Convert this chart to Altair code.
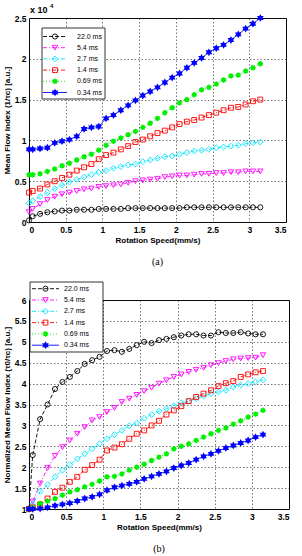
import altair as alt
import pandas as pd

# Rotation speed (mm/s) at each measurement step
speed = [0.0, 0.05, 0.15, 0.25, 0.35, 0.45, 0.55, 0.65, 0.75, 0.85, 0.95,
         1.05, 1.15, 1.25, 1.35, 1.45, 1.55, 1.65, 1.75, 1.85, 1.95, 2.05,
         2.15, 2.25, 2.35, 2.45, 2.55, 2.65, 2.75, 2.85, 2.95, 3.05, 3.15]

exposure = ["22.0 ms", "5.4 ms", "2.7 ms", "1.4 ms", "0.69 ms", "0.34 ms"]

# (a) mean flow index 1/tau_c, in units of 1e4
mfi_220 = [0.02, 0.07, 0.10, 0.12, 0.13, 0.14, 0.14, 0.15, 0.15, 0.15, 0.16,
           0.16, 0.16, 0.16, 0.17, 0.17, 0.17, 0.17, 0.17, 0.17, 0.17, 0.17,
           0.18, 0.18, 0.18, 0.18, 0.18, 0.18, 0.18, 0.18, 0.18, 0.18, 0.18]
mfi_54 = [0.12, 0.16, 0.22, 0.27, 0.31, 0.34, 0.36, 0.38, 0.40, 0.41, 0.43,
          0.44, 0.45, 0.46, 0.48, 0.50, 0.51, 0.52, 0.53, 0.55, 0.56, 0.57,
          0.57, 0.58, 0.59, 0.59, 0.60, 0.60, 0.61, 0.61, 0.62, 0.62, 0.62]
mfi_27 = [0.23, 0.26, 0.31, 0.36, 0.41, 0.45, 0.49, 0.52, 0.55, 0.58, 0.61,
          0.63, 0.66, 0.68, 0.70, 0.71, 0.74, 0.76, 0.78, 0.80, 0.81, 0.83,
          0.85, 0.87, 0.88, 0.89, 0.91, 0.92, 0.93, 0.94, 0.96, 0.97, 0.98]
mfi_14 = [0.36, 0.38, 0.41, 0.46, 0.50, 0.54, 0.58, 0.63, 0.67, 0.71, 0.77,
          0.82, 0.85, 0.89, 0.93, 0.98, 1.01, 1.05, 1.09, 1.12, 1.16, 1.20,
          1.23, 1.25, 1.28, 1.31, 1.34, 1.37, 1.40, 1.41, 1.44, 1.48, 1.50]
mfi_069 = [0.58, 0.58, 0.59, 0.62, 0.65, 0.69, 0.72, 0.76, 0.80, 0.83, 0.88,
           0.94, 0.99, 1.03, 1.07, 1.11, 1.16, 1.21, 1.27, 1.34, 1.40, 1.46,
           1.50, 1.56, 1.62, 1.65, 1.69, 1.74, 1.79, 1.80, 1.85, 1.89, 1.94]
mfi_034 = [0.89, 0.89, 0.90, 0.91, 0.97, 0.99, 1.01, 1.05, 1.14, 1.16, 1.17,
           1.27, 1.31, 1.37, 1.43, 1.49, 1.55, 1.60, 1.65, 1.71, 1.77, 1.82,
           1.89, 1.95, 2.01, 2.08, 2.13, 2.17, 2.23, 2.30, 2.37, 2.43, 2.50]

# (b) normalized mean flow index tau_0/tau_c
nmfi_220 = [1.00, 2.29, 3.15, 3.50, 3.87, 4.04, 4.16, 4.30, 4.47, 4.56, 4.64,
            4.78, 4.80, 4.76, 4.83, 4.92, 5.00, 4.97, 5.04, 5.07, 5.11, 5.15,
            5.18, 5.18, 5.15, 5.15, 5.23, 5.21, 5.21, 5.23, 5.20, 5.18, 5.18]
nmfi_54 = [1.00, 1.18, 1.61, 1.98, 2.27, 2.48, 2.64, 2.80, 2.96, 3.12, 3.20,
           3.32, 3.42, 3.56, 3.64, 3.73, 3.82, 3.90, 4.00, 4.08, 4.16, 4.22,
           4.28, 4.33, 4.38, 4.44, 4.49, 4.54, 4.58, 4.60, 4.61, 4.62, 4.68]
nmfi_27 = [1.00, 1.12, 1.42, 1.58, 1.77, 1.93, 2.06, 2.20, 2.32, 2.44, 2.56,
           2.68, 2.78, 2.88, 2.99, 3.06, 3.17, 3.26, 3.34, 3.40, 3.47, 3.54,
           3.58, 3.64, 3.70, 3.76, 3.80, 3.84, 3.92, 3.96, 4.00, 4.04, 4.09]
nmfi_14 = [1.00, 1.04, 1.11, 1.25, 1.41, 1.51, 1.65, 1.77, 1.94, 2.05, 2.18,
           2.40, 2.47, 2.55, 2.68, 2.80, 2.88, 3.00, 3.11, 3.26, 3.36, 3.46,
           3.58, 3.68, 3.76, 3.84, 3.94, 4.01, 4.06, 4.16, 4.22, 4.27, 4.30]
nmfi_069 = [1.00, 1.03, 1.13, 1.19, 1.25, 1.33, 1.41, 1.46, 1.53, 1.59, 1.67,
            1.77, 1.78, 1.84, 1.93, 2.00, 2.07, 2.16, 2.24, 2.32, 2.44, 2.50,
            2.56, 2.64, 2.72, 2.80, 2.88, 2.94, 3.03, 3.11, 3.20, 3.27, 3.36]
nmfi_034 = [1.00, 1.00, 1.01, 1.04, 1.08, 1.11, 1.14, 1.19, 1.25, 1.29, 1.35,
            1.45, 1.52, 1.56, 1.60, 1.65, 1.72, 1.78, 1.84, 1.90, 1.98, 2.04,
            2.10, 2.18, 2.26, 2.32, 2.39, 2.46, 2.52, 2.58, 2.64, 2.72, 2.78]

x_ticks = [0, 0.5, 1, 1.5, 2, 2.5, 3, 3.5]
ya_ticks = [0, 0.5, 1, 1.5, 2, 2.5]
yb_ticks = [1, 1.5, 2, 2.5, 3, 3.5, 4, 4.5, 5, 5.5, 6]

HEXAGRAM = ("M0,-1L0.289,-0.5L0.866,-0.5L0.577,0L0.866,0.5L0.289,0.5L0,1"
            "L-0.289,0.5L-0.866,0.5L-0.577,0L-0.866,-0.5L-0.289,-0.5Z")
ASTERISK = "M-1,0H1M0,-1V1M-0.7,-0.7L0.7,0.7M-0.7,0.7L0.7,-0.7"

# line/marker style for each exposure time
styles = [
    dict(color="#000000", dash=[4, 2], shape="circle", filled=False, size=26),
    dict(color="#ff00ff", dash=[4, 2, 1, 2], shape="triangle-down", filled=False, size=30),
    dict(color="#00e5ff", dash=[4, 2, 1, 2], shape="diamond", filled=False, size=34),
    dict(color="#ff0000", dash=[4, 2, 1, 2], shape="square", filled=False, size=24),
    dict(color="#00ee00", dash=[1, 2], shape=ASTERISK, filled=False, size=30),
    dict(color="#0000ff", dash=[1, 0], shape=HEXAGRAM, filled=True, size=60),
]

FONT = "Liberation Sans"


def point_mark(st):
    return alt.MarkDef(type="point", shape=st["shape"], size=st["size"],
                       filled=st["filled"], color=st["color"], opacity=1,
                       strokeWidth=1.4 if st["shape"] == ASTERISK else 0.9)


def panel(series, ydom, yticks, ytitle, w, h, leg, caption):
    x = alt.X("speed:Q", scale=alt.Scale(domain=[0, 3.5], nice=False),
              axis=alt.Axis(values=x_ticks, format="~g",
                            title="Rotation Speed(mm/s)"))
    y = alt.Y("value:Q", scale=alt.Scale(domain=ydom, nice=False, zero=False),
              axis=alt.Axis(values=yticks, format="~g", title=ytitle))
    layers = []
    for vals, st in zip(series, styles):
        df = pd.DataFrame({"speed": speed, "value": vals})
        layers.append(alt.Chart(df).mark_line(
            color=st["color"], strokeDash=st["dash"], strokeWidth=0.9
        ).encode(x=x, y=y))
        layers.append(alt.Chart(df, mark=point_mark(st)).encode(x=x, y=y))

    # legend box with a sample line, marker and label per exposure time
    one = pd.DataFrame({"k": [0]})
    layers.append(alt.Chart(one).mark_rect(
        fill="white", stroke="black", strokeWidth=0.8
    ).encode(x=alt.value(leg["x0"]), x2=alt.value(leg["x1"]),
             y=alt.value(leg["y0"]), y2=alt.value(leg["y1"])))
    for i, (name, st) in enumerate(zip(exposure, styles)):
        ry = leg["row0"] + i * leg["step"]
        lab = pd.DataFrame({"label": [name]})
        layers.append(alt.Chart(lab).mark_rule(
            color=st["color"], strokeDash=st["dash"], strokeWidth=0.9
        ).encode(x=alt.value(leg["lx0"]), x2=alt.value(leg["lx1"]),
                 y=alt.value(ry)))
        layers.append(alt.Chart(lab, mark=point_mark(st)).encode(
            x=alt.value((leg["lx0"] + leg["lx1"]) / 2), y=alt.value(ry)))
        layers.append(alt.Chart(lab).mark_text(
            align="left", baseline="middle", font=FONT, fontSize=7,
            color="black"
        ).encode(x=alt.value(leg["tx"]), y=alt.value(ry), text="label:N"))

    return alt.layer(*layers).properties(
        width=w, height=h,
        title=alt.TitleParams(caption, orient="bottom", font="Liberation Serif",
                              fontSize=10, fontWeight="normal",
                              offset=12, color="black"),
    )


top = panel(
    [mfi_220, mfi_54, mfi_27, mfi_14, mfi_069, mfi_034],
    [0, 2.5], ya_ticks, "Mean Flow Index (1/\u03c4c) [a.u.]", 257, 204,
    dict(x0=13, x1=76, y0=10, y1=81, row0=18.5, step=11.2,
         lx0=14, lx1=38, tx=48),
    "(a)",
)

# axis multiplier shown above the top-left corner of panel (a)
scale_note = pd.DataFrame({"t": ["x 10"], "e": ["4"]})
top = alt.layer(
    top,
    alt.Chart(scale_note).mark_text(
        align="left", baseline="alphabetic", font=FONT, fontSize=9,
        fontWeight="bold", color="black"
    ).encode(x=alt.value(1), y=alt.value(-5), text="t:N"),
    alt.Chart(scale_note).mark_text(
        align="left", baseline="alphabetic", font=FONT, fontSize=6,
        fontWeight="bold", color="black"
    ).encode(x=alt.value(21), y=alt.value(-10), text="e:N"),
)

bottom = panel(
    [nmfi_220, nmfi_54, nmfi_27, nmfi_14, nmfi_069, nmfi_034],
    [1, 6], yb_ticks, "Normalized Mean Flow Index (\u03c40/\u03c4c) [a.u.]",
    260, 209,
    dict(x0=1, x1=74, y0=-18, y1=52, row0=-11.3, step=11.3,
         lx0=3, lx1=30, tx=35),
    "(b)",
)

chart = alt.vconcat(top, bottom, spacing=14).properties(
    padding={"left": 2, "top": 2, "right": 2, "bottom": 2}
).configure_view(
    stroke="black", strokeWidth=1
).configure_axis(
    grid=True, gridColor="#222222", gridDash=[1.5, 2], gridWidth=0.7,
    gridOpacity=0.9, ticks=False, domain=False,
    labelFont=FONT, labelFontWeight="bold", labelFontSize=8.5,
    labelColor="black", labelPadding=3,
    titleFont=FONT, titleFontWeight="bold", titleFontSize=8,
    titleColor="black", titlePadding=3,
)

chart.save("out.html", embed_options={"renderer": "svg", "actions": False})
